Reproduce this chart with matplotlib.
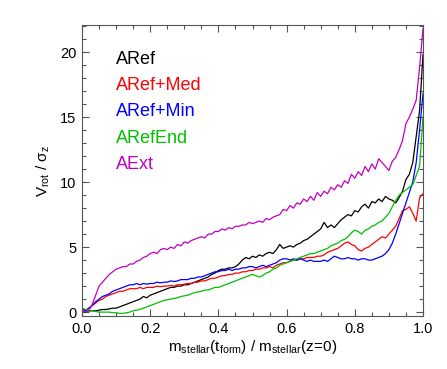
import numpy as np
import matplotlib
matplotlib.use("Agg")
import matplotlib.pyplot as plt
from matplotlib.ticker import MultipleLocator

plt.rcParams['font.family'] = ['Liberation Sans', 'DejaVu Sans']
plt.rcParams['mathtext.fontset'] = 'custom'
plt.rcParams['mathtext.rm'] = 'Liberation Sans'
plt.rcParams['mathtext.it'] = 'Liberation Sans'

# mass fraction grid
mass_frac = np.round(np.arange(0, 101) * 0.01, 2)

aref = [0.1, 0.0, 0.1, 0.1, 0.1, 0.15, 0.2, 0.2, 0.25, 0.3,
        0.3, 0.4, 0.5, 0.6, 0.7, 0.8, 0.9, 1.0, 1.2, 1.1,
        1.3, 1.4, 1.5, 1.6, 1.7, 1.8, 1.9, 1.9, 2.0, 2.0,
        2.1, 2.1, 2.2, 2.3, 2.4, 2.5, 2.6, 2.7, 2.9, 3.0,
        3.2, 3.3, 3.3, 3.4, 3.4, 3.5, 3.7, 4.0, 4.2, 4.1,
        4.3, 4.2, 4.4, 4.3, 4.5, 4.6, 4.5, 4.8, 5.2, 4.9,
        5.0, 5.1, 5.0, 5.2, 5.3, 5.5, 5.6, 5.8, 6.0, 6.2,
        6.4, 6.9, 6.5, 6.7, 6.5, 6.8, 7.1, 7.3, 7.5, 7.4,
        7.8, 7.7, 8.1, 8.3, 8.0, 8.5, 8.4, 8.7, 8.5, 8.9,
        8.7, 8.6, 8.4, 8.8, 9.3, 10.2, 10.6, 11.5, 13.5, 15.5,
        19.8]

aref_med = [0.0, 0.1, 0.3, 0.5, 0.7, 0.9, 1.0, 1.2, 1.3, 1.4,
            1.5, 1.6, 1.6, 1.7, 1.8, 1.8, 1.8, 1.9, 1.8, 1.9,
            1.9, 1.9, 2.0, 1.95, 2.0, 2.0, 2.05, 2.0, 2.1, 2.1,
            2.15, 2.2, 2.2, 2.3, 2.3, 2.4, 2.4, 2.5, 2.6, 2.6,
            2.7, 2.8, 2.8, 2.9, 2.9, 3.0, 3.0, 3.1, 3.1, 3.2,
            3.2, 3.3, 3.3, 3.4, 3.4, 3.5, 3.4, 3.6, 3.7, 3.8,
            3.8, 3.9, 4.0, 4.0, 4.1, 4.1, 4.2, 4.2, 4.2, 4.3,
            4.3, 4.4, 4.6, 4.7, 4.8, 4.9, 5.1, 5.3, 5.4, 5.2,
            5.1, 4.8, 4.7, 4.9, 5.0, 5.2, 5.4, 5.6, 5.8, 5.7,
            6.0, 6.3, 6.6, 7.2, 7.8, 7.9, 8.1, 7.6, 7.0, 8.8,
            9.1]

aref_min = [0.3, 0.1, 0.3, 0.5, 0.8, 1.0, 1.2, 1.3, 1.4, 1.6,
            1.7, 1.8, 1.9, 2.0, 2.1, 2.1, 2.2, 2.1, 2.2, 2.15,
            2.2, 2.2, 2.3, 2.25, 2.3, 2.3, 2.4, 2.35, 2.4, 2.5,
            2.5, 2.5, 2.6, 2.6, 2.7, 2.7, 2.8, 2.9, 3.0, 3.1,
            3.1, 3.2, 3.2, 3.3, 3.2, 3.3, 3.3, 3.4, 3.4, 3.5,
            3.5, 3.4, 3.5, 3.6, 3.5, 3.6, 3.7, 3.8, 4.0, 4.1,
            4.1, 4.0, 4.1, 4.0, 4.1, 4.0, 3.9, 4.0, 3.9, 3.9,
            3.9, 4.0, 3.9, 4.1, 4.3, 4.2, 4.1, 4.1, 4.2, 4.1,
            4.1, 4.0, 4.1, 4.1, 4.0, 4.0, 4.1, 4.2, 4.3, 4.5,
            4.8, 5.3, 6.0, 6.8, 7.6, 8.4, 9.2, 10.0, 11.5, 14.0,
            16.8]

aref_end = [0.3, 0.2, 0.1, 0.1, 0.05, 0.0, 0.0, 0.0, 0.0, -0.05,
            -0.05, -0.1, -0.1, -0.05, 0.0, 0.1, 0.15, 0.2, 0.3, 0.4,
            0.5, 0.6, 0.7, 0.8, 0.9, 0.95, 1.0, 1.05, 1.1, 1.2,
            1.25, 1.3, 1.4, 1.5, 1.55, 1.6, 1.7, 1.7, 1.8, 1.9,
            1.9, 2.0, 2.1, 2.2, 2.3, 2.4, 2.5, 2.6, 2.7, 2.8,
            2.9, 2.8, 2.7, 2.8, 3.0, 3.1, 3.3, 3.4, 3.6, 3.7,
            3.8, 3.9, 4.0, 4.1, 4.2, 4.3, 4.4, 4.5, 4.5, 4.6,
            4.7, 4.8, 4.9, 5.1, 5.2, 5.3, 5.5, 5.6, 5.8, 6.1,
            6.3, 6.2, 6.0, 6.3, 6.4, 6.6, 6.7, 6.9, 7.0, 7.3,
            7.6, 8.1, 8.6, 9.0, 9.2, 9.4, 9.6, 9.8, 10.5, 11.2,
            15.0]

aext = [0.2, 0.0, 0.1, 0.6, 1.3, 2.0, 2.3, 2.6, 2.9, 3.1,
        3.3, 3.4, 3.5, 3.5, 3.7, 3.7, 3.9, 4.0, 4.2, 4.3,
        4.5, 4.6, 4.5, 4.8, 4.9, 4.8, 5.0, 4.9, 5.2, 5.1,
        5.4, 5.3, 5.5, 5.6, 5.7, 5.8, 5.7, 6.0, 6.0, 6.2,
        6.2, 6.4, 6.3, 6.5, 6.4, 6.6, 6.6, 6.7, 6.7, 6.9,
        6.8, 6.9, 7.0, 6.9, 7.2, 7.1, 7.3, 7.4, 7.5, 7.9,
        7.8, 8.2, 8.0, 8.4, 8.3, 8.7, 8.5, 8.9, 8.6, 9.2,
        8.9, 9.3, 9.1, 9.6, 9.4, 9.8, 9.6, 10.1, 9.9, 10.6,
        10.3, 10.8, 10.5, 11.2, 10.8, 11.4, 11.0, 11.8, 11.5, 11.2,
        10.9, 11.6, 11.9, 12.5, 13.2, 14.5, 15.0, 15.6, 16.3, 18.8,
        21.8]

series_names = ['ARef', 'ARef+Med', 'ARef+Min', 'ARefEnd', 'AExt']
series_values = [aref, aref_med, aref_min, aref_end, aext]
series_colors = ['#000000', '#ff0000', '#0000ff', '#00c000', '#c000c0']

fig = plt.figure(figsize=(4.47, 3.69), dpi=100)
ax = fig.add_axes([82/447, 1-316/369, 341/447, 291/369])

for name, vals, col in zip(series_names, series_values, series_colors):
    ax.plot(mass_frac, vals, color=col, lw=0.9)

ax.set_xlim(0, 1.0)
ax.set_ylim(-0.3, 22.08)

ax.xaxis.set_major_locator(MultipleLocator(0.2))
ax.xaxis.set_minor_locator(MultipleLocator(0.05))
ax.yaxis.set_major_locator(MultipleLocator(5))
ax.yaxis.set_minor_locator(MultipleLocator(1))
ax.xaxis.set_major_formatter(matplotlib.ticker.FormatStrFormatter('%.1f'))
ax.tick_params(which='both', direction='in', top=True, right=True,
               labelsize=10.5, color='#555555', width=0.8, pad=4)
ax.tick_params(which='major', length=5)
ax.tick_params(which='minor', length=3)
for s in ax.spines.values():
    s.set_color('#555555')
    s.set_linewidth(0.8)

ax.set_xlabel(r'$\mathrm{m_{stellar}(t_{form})\ /\ m_{stellar}(z\!=\!0)}$', fontsize=11, labelpad=2)
ax.set_ylabel(r'$\mathrm{V_{rot}\ /\ \sigma_{z}}$', fontsize=11, labelpad=6)

for i, (name, col) in enumerate(zip(series_names, series_colors)):
    ax.text(0.10, 0.883 - i * 0.0907, name, color=col, fontsize=13,
            transform=ax.transAxes, va='center', ha='left')

fig.savefig('out.png', dpi=100)
